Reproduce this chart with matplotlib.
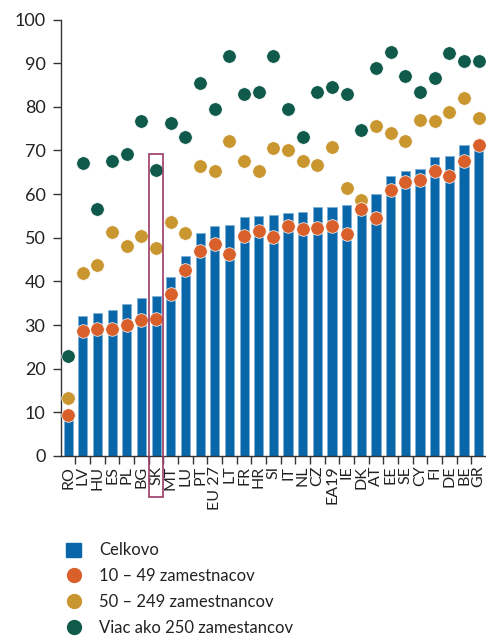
import matplotlib
matplotlib.use("Agg")
import matplotlib.pyplot as plt
from matplotlib.lines import Line2D
from matplotlib.patches import Patch, Rectangle
import numpy as np

plt.rcParams['font.family'] = ['Lato', 'DejaVu Sans']

countries = ["RO", "LV", "HU", "ES", "PL", "BG", "SK", "MT", "LU", "PT",
             "EU 27", "LT", "FR", "HR", "SI", "IT", "NL", "CZ", "EA19", "IE",
             "DK", "AT", "EE", "SE", "CY", "FI", "DE", "BE", "GR"]
celkovo = [10.0, 32.0, 32.7, 33.4, 34.9, 36.3, 36.7, 41.1, 45.9, 51.1,
           52.7, 53.0, 54.7, 55.0, 55.2, 55.7, 55.9, 57.0, 57.1, 57.6,
           58.5, 60.0, 64.2, 65.2, 65.8, 68.6, 68.8, 71.3, 72.0]
small = [9.5, 28.7, 29.2, 29.1, 30.1, 31.2, 31.3, 37.2, 42.7, 46.9,
         48.6, 46.2, 50.4, 51.6, 50.1, 52.7, 52.0, 52.3, 52.7, 50.8,
         56.5, 54.6, 60.9, 62.8, 63.3, 65.4, 64.2, 67.7, 71.3]
medium = [13.3, 42.0, 43.7, 51.3, 48.0, 50.5, 47.7, 53.7, 51.0, 66.5,
          65.2, 72.1, 67.7, 65.4, 70.5, 70.2, 67.7, 66.6, 70.8, 61.4,
          58.6, 75.6, 73.9, 72.2, 77.0, 76.7, 78.9, 82.0, 77.4]
large = [22.8, 67.1, 56.7, 67.7, 69.3, 76.8, 65.6, 76.2, 73.0, 85.5,
         79.6, 91.7, 83.0, 83.3, 91.7, 79.4, 73.0, 83.3, 84.5, 83.0,
         74.8, 88.9, 92.5, 87.1, 83.3, 86.6, 92.4, 90.6, 90.6]
highlight = "SK"

labels = ["Celkovo", "10 – 49 zamestnacov", "50 – 249 zamestnancov",
          "Viac ako 250 zamestancov"]
c_bar = "#0866a9"
c_small = "#d9602a"
c_med = "#c9962f"
c_large = "#0f5a4b"

fig = plt.figure(figsize=(4.86, 6.4), dpi=100)
ax = fig.add_axes([0.125, 0.2875, 0.875, 0.682])

x = np.arange(len(countries))
ax.bar(x, celkovo, width=0.62, color=c_bar, edgecolor="#7fb0d6", linewidth=0.6, zorder=2)
dot = dict(s=95, edgecolors="white", linewidths=0.5, zorder=3)
ax.scatter(x, large, color=c_large, **dot)
ax.scatter(x, medium, color=c_med, **dot)
ax.scatter(x, small, color=c_small, **dot)

# ramik okolo SK
hi = countries.index(highlight)
ax.add_patch(Rectangle((hi - 0.47, -9.3), 0.94, 78.4, fill=False,
                       edgecolor="#9b3b66", linewidth=1.2, clip_on=False, zorder=4))

ax.set_xlim(-0.5, len(countries) - 0.5)
ax.set_ylim(0, 100)
ax.set_yticks(range(0, 101, 10))
ax.set_xticks(x)
ax.set_xticklabels(countries, rotation=90, fontsize=11.5, color="#222222")
ax.set_xticks(x[:-1] + 0.5, minor=True)
ax.tick_params(axis="x", which="major", length=0, pad=7)
ax.tick_params(axis="x", which="minor", length=6, width=1, color="#333333")
ax.tick_params(axis="y", length=6, width=1, color="#333333", labelsize=13,
               labelcolor="#222222", pad=5)
for s in ["top", "right"]:
    ax.spines[s].set_visible(False)
for s in ["left", "bottom"]:
    ax.spines[s].set_color("#333333")
    ax.spines[s].set_linewidth(1)

handles = [Patch(color=c_bar),
           Line2D([], [], marker="o", linestyle="", color=c_small, markersize=10),
           Line2D([], [], marker="o", linestyle="", color=c_med, markersize=10),
           Line2D([], [], marker="o", linestyle="", color=c_large, markersize=10)]
fig.legend(handles, labels, loc="upper left", bbox_to_anchor=(0.105, 0.176),
           frameon=False, fontsize=12, labelspacing=0.6, handlelength=0.9,
           handleheight=0.9, handletextpad=1.1, labelcolor="#222222")

fig.savefig("out.png", dpi=100)
